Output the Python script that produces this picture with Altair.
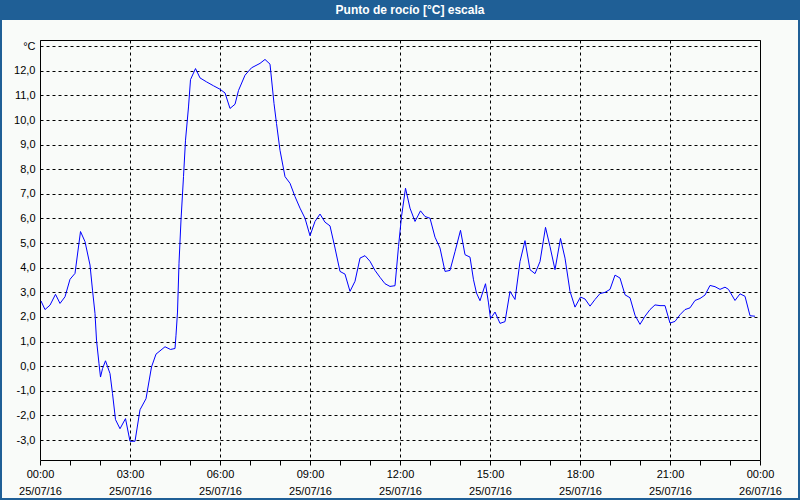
import altair as alt
import pandas as pd

TITLE = "Punto de rocío [°C] escala"

# minutes since 25/07/16 00:00
MINUTES = [
    2, 10, 20, 31, 40, 50, 60, 70, 81, 90,
    100, 105, 110, 113, 118, 121, 125, 131, 140, 145,
    151, 160, 171, 180, 190, 200, 212, 223, 232, 250,
    261, 270, 272, 275, 278, 282, 287, 291, 297, 301,
    311, 320, 333, 347, 360, 370, 380, 390, 397, 410,
    423, 440, 450, 460, 468, 473, 480, 490, 500, 510,
    520, 530, 540, 550, 560, 570, 580, 590, 600, 610,
    620, 630, 640, 650, 660, 670, 680, 690, 700, 710,
    717, 723, 731, 740, 750, 761, 770, 780, 790, 800,
    810, 820, 830, 841, 850, 860, 867, 873, 880, 891,
    897, 901, 910, 920, 930, 940, 950, 960, 970, 980,
    990, 1000, 1011, 1020, 1030, 1041, 1050, 1060, 1070, 1081,
    1090, 1100, 1110, 1120, 1130, 1140, 1150, 1160, 1170, 1180,
    1190, 1200, 1210, 1220, 1230, 1240, 1250, 1260, 1270, 1280,
    1290, 1300, 1310, 1320, 1330, 1340, 1350, 1360, 1370, 1377,
    1390, 1400, 1410, 1420, 1430,
]

DEW_POINT = [
    2.65, 2.30, 2.48, 2.92, 2.55, 2.82, 3.53, 3.77, 5.47, 5.06,
    4.11, 3.09, 2.14, 1.06, 0.10, -0.44, -0.10, 0.22, -0.30, -1.11,
    -2.17, -2.54, -2.13, -3.05, -3.05, -1.77, -1.32, -0.03, 0.49, 0.79,
    0.68, 0.72, 1.26, 2.20, 4.18, 5.94, 7.70, 9.18, 10.53, 11.64,
    12.09, 11.71, 11.55, 11.39, 11.25, 11.10, 10.47, 10.64, 11.20, 11.82,
    12.12, 12.30, 12.46, 12.27, 10.67, 9.86, 8.77, 7.70, 7.43, 6.89,
    6.42, 6.01, 5.30, 5.88, 6.18, 5.85, 5.70, 4.80, 3.85, 3.74,
    3.04, 3.45, 4.39, 4.49, 4.26, 3.89, 3.61, 3.35, 3.24, 3.27,
    4.86, 6.08, 7.23, 6.42, 5.88, 6.31, 6.08, 6.01, 5.24, 4.80,
    3.85, 3.89, 4.65, 5.52, 4.53, 4.43, 3.51, 2.97, 2.66, 3.35,
    2.57, 1.93, 2.20, 1.74, 1.81, 3.04, 2.71, 4.25, 5.10, 3.92,
    3.76, 4.25, 5.64, 4.86, 3.92, 5.19, 4.39, 3.04, 2.40, 2.81,
    2.73, 2.44, 2.71, 2.95, 3.00, 3.12, 3.70, 3.58, 2.90, 2.78,
    2.07, 1.70, 2.03, 2.30, 2.49, 2.46, 2.46, 1.75, 1.82, 2.09,
    2.30, 2.37, 2.67, 2.75, 2.89, 3.28, 3.23, 3.12, 3.21, 3.12,
    2.67, 2.94, 2.84, 2.05, 2.03,
]

X_TICK_TIMES = ["00:00", "03:00", "06:00", "09:00", "12:00", "15:00", "18:00", "21:00", "00:00"]
X_TICK_DATES = ["25/07/16"] * 8 + ["26/07/16"]
X_MINOR_TICKS = list(range(0, 1441, 60))
Y_TICKS = list(range(-3, 14))
Y_UNIT_LABEL = "°C"

df = pd.DataFrame({"m": MINUTES, "v": DEW_POINT})

labels_js = "[" + ",".join(f"['{t}','{d}']" for t, d in zip(X_TICK_TIMES, X_TICK_DATES)) + "]"
x_label_expr = f"datum.value % 180 === 0 ? {labels_js}[datum.value / 180] : ''"
y_label_expr = f"datum.value === 13 ? '{Y_UNIT_LABEL}' : datum.value + ',0'"

FONT = "Liberation Sans"

line = alt.Chart(df).mark_line(color="#0000ff", strokeWidth=1, clip=True).encode(
    x=alt.X(
        "m:Q",
        scale=alt.Scale(domain=[0, 1440], nice=False, zero=False),
        axis=alt.Axis(
            title=None,
            values=X_MINOR_TICKS,
            labelExpr=x_label_expr,
            labelOverlap=False,
            labelFlush=False,
            labelBound=False,
            labelFont=FONT,
            labelFontSize=11,
            labelColor="#000000",
            labelLineHeight=17,
            labelPadding=3,
            labelBaseline="top",
            ticks=True,
            tickSize=5,
            tickColor="#000000",
            domain=False,
            grid=True,
            gridColor="#000000",
            gridDash=[3, 3],
            gridWidth=1,
            gridOpacity={"condition": {"test": "datum.value % 180 === 0", "value": 1}, "value": 0},
        ),
    ),
    y=alt.Y(
        "v:Q",
        scale=alt.Scale(domain=[-3.81, 13.25], nice=False, zero=False),
        axis=alt.Axis(
            title=None,
            values=Y_TICKS,
            labelExpr=y_label_expr,
            labelFont=FONT,
            labelFontSize=11,
            labelColor="#000000",
            labelPadding=5,
            ticks=False,
            domain=False,
            grid=True,
            gridColor="#000000",
            gridDash=[3, 3],
            gridWidth=1,
        ),
    ),
)

deco = alt.Data(values=[{"t": TITLE}])

title_bar = alt.Chart(deco).mark_rect(color="#1f5f96").encode(
    x=alt.value(-40), x2=alt.value(760), y=alt.value(-40), y2=alt.value(-20)
)

title_text = alt.Chart(deco).mark_text(
    color="#ffffff", font=FONT, fontSize=12, fontWeight="bold", align="center", baseline="middle"
).encode(x=alt.value(370), y=alt.value(-30), text=alt.Text("t:N"))

frame = alt.Chart(deco).mark_rect(fillOpacity=0, stroke="#1f5f96", strokeWidth=2).encode(
    x=alt.value(-39), x2=alt.value(759), y=alt.value(-40), y2=alt.value(459)
)

chart = alt.layer(title_bar, title_text, frame, line).properties(
    width=720,
    height=420,
    autosize=alt.AutoSizeParams(type="none"),
    padding={"left": 40, "top": 40, "right": 40, "bottom": 40},
    background="#f9fbf9",
).configure_view(stroke="#000000", strokeWidth=1, fill=None)

chart.save("out.html", embed_options={"renderer": "svg", "actions": False})
